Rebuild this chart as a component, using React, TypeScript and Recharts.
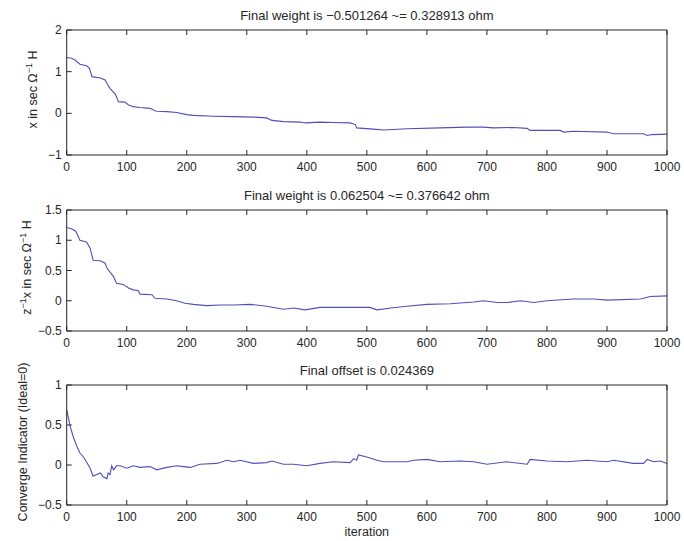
import React from 'react';
import { LineChart, Line, XAxis, YAxis } from 'recharts';

const xTicks = [0, 100, 200, 300, 400, 500, 600, 700, 800, 900, 1000];

const title1 = 'Final weight is \u22120.501264 ~= 0.328913 ohm';
const title2 = 'Final weight is 0.062504 ~= 0.376642 ohm';
const title3 = 'Final offset is 0.024369';
const xLabel = 'iteration';

const yTicks1 = [-1, 0, 1, 2];
const yTicks2 = [-0.5, 0, 0.5, 1, 1.5];
const yTicks3 = [-0.5, 0, 0.5, 1];

const iter1 = [0, 8, 14, 22, 33, 38, 42, 56, 64, 67, 72, 81, 84, 86, 97, 103, 111, 122, 139, 147, 150, 167, 183, 200, 211, 244, 278, 311, 333, 342, 361, 389, 397, 422, 444, 472, 481, 483, 511, 528, 567, 622, 667, 694, 711, 744, 767, 772, 822, 828, 844, 900, 911, 961, 967, 975, 1000];
const weight1 = [1.34, 1.32, 1.28, 1.18, 1.14, 1.08, 0.88, 0.85, 0.8, 0.72, 0.6, 0.46, 0.36, 0.28, 0.27, 0.2, 0.16, 0.14, 0.12, 0.06, 0.05, 0.04, 0.02, -0.03, -0.05, -0.07, -0.08, -0.09, -0.11, -0.17, -0.2, -0.21, -0.23, -0.21, -0.22, -0.23, -0.27, -0.35, -0.38, -0.4, -0.37, -0.35, -0.33, -0.33, -0.35, -0.34, -0.36, -0.41, -0.41, -0.45, -0.43, -0.45, -0.49, -0.49, -0.53, -0.51, -0.5];

const iter2 = [0, 8, 15, 17, 22, 33, 39, 44, 56, 64, 67, 78, 83, 94, 103, 111, 119, 122, 142, 147, 167, 183, 197, 211, 233, 256, 278, 306, 333, 361, 378, 397, 422, 444, 472, 505, 517, 540, 567, 600, 639, 678, 694, 717, 733, 756, 778, 800, 844, 878, 900, 956, 972, 1000];
const weight2 = [1.21, 1.19, 1.15, 1.11, 1.0, 0.97, 0.87, 0.67, 0.66, 0.62, 0.54, 0.4, 0.29, 0.27, 0.21, 0.18, 0.17, 0.11, 0.1, 0.04, 0.03, 0.0, -0.04, -0.06, -0.08, -0.07, -0.07, -0.06, -0.09, -0.14, -0.12, -0.15, -0.11, -0.11, -0.11, -0.11, -0.15, -0.12, -0.09, -0.06, -0.05, -0.02, 0.0, -0.03, -0.03, 0.0, -0.03, 0.0, 0.03, 0.03, 0.01, 0.03, 0.07, 0.08];

const iter3 = [0, 6, 11, 17, 22, 28, 36, 39, 44, 50, 56, 61, 67, 69, 72, 75, 78, 83, 89, 100, 111, 122, 139, 150, 167, 183, 195, 206, 222, 250, 267, 278, 289, 311, 333, 342, 361, 378, 400, 422, 444, 472, 478, 483, 486, 500, 517, 528, 567, 578, 600, 622, 656, 678, 700, 733, 767, 772, 800, 833, 867, 900, 911, 944, 961, 967, 978, 989, 1000];
const offset3 = [0.69, 0.48, 0.35, 0.23, 0.15, 0.1, 0.0, -0.04, -0.14, -0.12, -0.1, -0.15, -0.17, -0.1, -0.12, -0.01, -0.06, -0.01, -0.01, -0.04, -0.01, -0.03, -0.02, -0.06, -0.03, -0.01, -0.02, -0.03, 0.01, 0.02, 0.06, 0.04, 0.06, 0.02, 0.03, 0.05, 0.01, 0.01, -0.01, 0.02, 0.04, 0.03, 0.08, 0.06, 0.125, 0.1, 0.06, 0.04, 0.04, 0.06, 0.07, 0.04, 0.05, 0.04, 0.01, 0.04, 0.01, 0.07, 0.05, 0.04, 0.06, 0.04, 0.06, 0.02, 0.02, 0.07, 0.04, 0.05, 0.02];

const FONT = '"Liberation Sans", Arial, Helvetica, sans-serif';
const INK = '#262626';
const LINE = '#5050b8';

const fmt = (v: number) => (v < 0 ? '\u2212' + Math.abs(v) : String(v));

function BottomTick(props: any) {
  const { x, y, payload } = props;
  return (
    <g>
      <line x1={x} x2={x} y1={y} y2={y - 5} stroke={INK} />
      <text x={x} y={y + 15.5} textAnchor="middle" fontSize={12} fontFamily={FONT} fill={INK}>
        {fmt(payload.value)}
      </text>
    </g>
  );
}
function TopTick(props: any) {
  const { x, y } = props;
  return <line x1={x} x2={x} y1={y} y2={y + 5} stroke={INK} />;
}
function LeftTick(props: any) {
  const { x, y, payload } = props;
  return (
    <g>
      <line x1={x} x2={x + 5} y1={y} y2={y} stroke={INK} />
      <text x={x - 5} y={y + 4} textAnchor="end" fontSize={12} fontFamily={FONT} fill={INK}>
        {fmt(payload.value)}
      </text>
    </g>
  );
}
function RightTick(props: any) {
  const { x, y } = props;
  return <line x1={x} x2={x - 5} y1={y} y2={y} stroke={INK} />;
}

type Seg = { t: string; sup?: boolean };

function Panel(p: {
  iters: number[];
  vals: number[];
  top: number;
  height: number;
  mTop: number;
  mBottom: number;
  xAxisH: number;
  yDomain: [number, number];
  yTicks: number[];
  title: string;
  yLabel: Seg[];
  yLabelX: number;
  xLabelText?: string;
}) {
  const data = p.iters.map((it, i) => ({ iter: it, v: p.vals[i] }));
  const titleContent = (props: any) => {
    const vb = props.viewBox;
    return (
      <text x={vb.x + vb.width / 2} y={vb.y + vb.height - 10} textAnchor="middle" fontSize={13} fontFamily={FONT} fill={INK}>
        {p.title}
      </text>
    );
  };
  const yLabelContent = (props: any) => {
    const vb = props.viewBox;
    const cy = vb.y + vb.height / 2 - 3;
    const cx = p.yLabelX;
    return (
      <text
        x={cx}
        y={cy}
        textAnchor="middle"
        fontSize={12.5}
        fontFamily={FONT}
        fill={INK}
        transform={`rotate(-90 ${cx} ${cy})`}
      >
        {p.yLabel.map((s, i) => {
          const prevSup = i > 0 && p.yLabel[i - 1].sup;
          const dy = s.sup ? -5 : prevSup ? 5 : 0;
          return (
            <tspan key={i} dy={dy} fontSize={s.sup ? 9 : 12.5}>
              {s.t}
            </tspan>
          );
        })}
      </text>
    );
  };
  const xLabelContent = (props: any) => {
    const vb = props.viewBox;
    return (
      <text x={vb.x + vb.width / 2} y={vb.y + 31} textAnchor="middle" fontSize={12.5} fontFamily={FONT} fill={INK}>
        {p.xLabelText}
      </text>
    );
  };
  return (
    <div style={{ position: 'absolute', left: 0, top: p.top }}>
      <LineChart
        width={684}
        height={p.height}
        data={data}
        margin={{ top: p.mTop - 1, right: 16, bottom: p.mBottom, left: 6.7 }}
      >
        <XAxis
          xAxisId="b"
          dataKey="iter"
          type="number"
          domain={[0, 1000]}
          ticks={xTicks}
          interval={0}
          height={p.xAxisH}
          tickSize={0}
          tickMargin={0}
          tickLine={false}
          axisLine={{ stroke: INK }}
          tick={<BottomTick />}
          label={p.xLabelText ? { content: xLabelContent } : undefined}
        />
        <XAxis
          xAxisId="t"
          orientation="top"
          dataKey="iter"
          type="number"
          domain={[0, 1000]}
          ticks={xTicks}
          interval={0}
          height={1}
          tickSize={0}
          tickMargin={0}
          tickLine={false}
          axisLine={{ stroke: INK }}
          tick={<TopTick />}
          label={{ content: titleContent }}
        />
        <YAxis
          yAxisId="l"
          type="number"
          domain={p.yDomain}
          ticks={p.yTicks}
          interval={0}
          width={60}
          tickSize={0}
          tickMargin={0}
          tickLine={false}
          axisLine={{ stroke: INK }}
          tick={<LeftTick />}
          label={{ content: yLabelContent }}
        />
        <YAxis
          yAxisId="r"
          orientation="right"
          type="number"
          domain={p.yDomain}
          ticks={p.yTicks}
          interval={0}
          width={1}
          tickSize={0}
          tickMargin={0}
          tickLine={false}
          axisLine={{ stroke: INK }}
          tick={<RightTick />}
        />
        <Line
          xAxisId="b"
          yAxisId="l"
          type="linear"
          dataKey="v"
          stroke={LINE}
          strokeWidth={1.1}
          dot={false}
          isAnimationActive={false}
        />
      </LineChart>
    </div>
  );
}

export default function App() {
  return (
    <div style={{ position: 'absolute', left: 0, top: 0, width: 684, height: 541, background: '#fff' }}>
      <Panel
        iters={iter1}
        vals={weight1}
        top={0}
        height={180}
        mTop={30}
        mBottom={5}
        xAxisH={20}
        yDomain={[-1, 2]}
        yTicks={yTicks1}
        title={title1}
        yLabel={[{ t: 'x in sec \u03A9' }, { t: '\u22121', sup: true }, { t: ' H' }]}
        yLabelX={37}
      />
      <Panel
        iters={iter2}
        vals={weight2}
        top={180}
        height={180}
        mTop={30}
        mBottom={9}
        xAxisH={20}
        yDomain={[-0.5, 1.5]}
        yTicks={yTicks2}
        title={title2}
        yLabel={[{ t: 'z' }, { t: '\u22121', sup: true }, { t: 'x in sec \u03A9' }, { t: '\u22121', sup: true }, { t: ' H' }]}
        yLabelX={31}
      />
      <Panel
        iters={iter3}
        vals={offset3}
        top={360}
        height={181}
        mTop={25}
        mBottom={4}
        xAxisH={32}
        yDomain={[-0.5, 1]}
        yTicks={yTicks3}
        title={title3}
        yLabel={[{ t: 'Converge Indicator (Ideal=0)' }]}
        yLabelX={27}
        xLabelText={xLabel}
      />
    </div>
  );
}
